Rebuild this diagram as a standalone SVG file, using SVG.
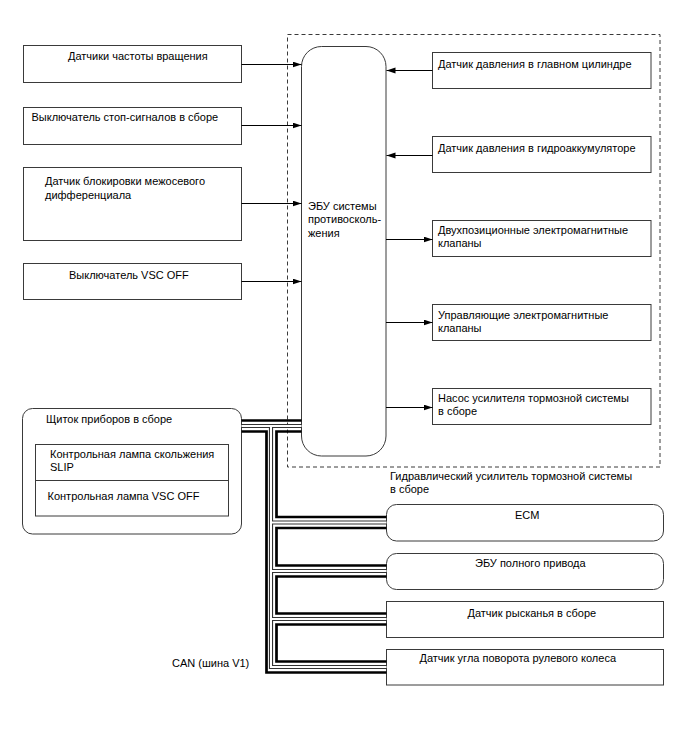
<svg xmlns="http://www.w3.org/2000/svg" width="688" height="755" viewBox="0 0 688 755">
<defs>
<marker id="ah" markerUnits="userSpaceOnUse" markerWidth="10" markerHeight="7" refX="9" refY="3" orient="auto">
<path d="M0,0 L9,3 L0,6 z" fill="#000"/>
</marker>
<style>
.b{fill:#fff;stroke:#3a3a3a;stroke-width:1}
.t{font-family:"Liberation Sans",Arial,sans-serif;font-size:11px;fill:#000}
.a{stroke:#000;stroke-width:1;fill:none;marker-end:url(#ah)}
.dash{fill:none;stroke:#3a3a3a;stroke-width:1;stroke-dasharray:4 3}
.thick{fill:none;stroke:#000;stroke-width:2.7;stroke-linejoin:miter}
.dbo{fill:none;stroke:#333;stroke-width:4.2}
.dbi{fill:none;stroke:#fff;stroke-width:2}
</style>
</defs>
<rect width="688" height="755" fill="#fff"/>
<rect class="dash" x="287.5" y="34.5" width="372.5" height="432.5"/>
<text class="t" x="390" y="480">Гидравлический усилитель тормозной системы</text>
<text class="t" x="390" y="493">в сборе</text>

<g id="n-speed"><rect class="b" x="23.5" y="45.5" width="218" height="37"/><text class="t" x="68" y="60">Датчики частоты вращения</text></g>
<g id="n-stop"><rect class="b" x="23.5" y="107.5" width="218" height="37"/><text class="t" x="31.5" y="121">Выключатель стоп-сигналов в сборе</text></g>
<g id="n-diff"><rect class="b" x="23.5" y="167.5" width="218" height="73"/><text class="t" x="45" y="185">Датчик блокировки межосевого</text><text class="t" x="45" y="198.5">дифференциала</text></g>
<g id="n-vscoff"><rect class="b" x="23.5" y="263.5" width="218" height="36"/><text class="t" x="69" y="279">Выключатель VSC OFF</text></g>

<g id="n-ecu"><rect class="b" x="301.5" y="46.5" width="84.5" height="409.5" rx="20" ry="20"/><text class="t" x="308" y="209.5">ЭБУ системы</text><text class="t" x="308" y="223">противосколь-</text><text class="t" x="308" y="236.5">жения</text></g>

<g id="n-mc"><rect class="b" x="432.5" y="52.5" width="218.5" height="36"/><text class="t" x="438" y="68">Датчик давления в главном цилиндре</text></g>
<g id="n-acc"><rect class="b" x="432.5" y="136.5" width="218.5" height="36"/><text class="t" x="438" y="152">Датчик давления в гидроаккумуляторе</text></g>
<g id="n-sw"><rect class="b" x="432.5" y="220.5" width="218.5" height="36"/><text class="t" x="438" y="233.5">Двухпозиционные электромагнитные</text><text class="t" x="438" y="246.5">клапаны</text></g>
<g id="n-ctl"><rect class="b" x="432.5" y="304.5" width="218.5" height="36"/><text class="t" x="438" y="318.5">Управляющие электромагнитные</text><text class="t" x="438" y="331.5">клапаны</text></g>
<g id="n-pump"><rect class="b" x="432.5" y="388.5" width="218.5" height="36"/><text class="t" x="438" y="402">Насос усилителя тормозной системы</text><text class="t" x="438" y="415">в сборе</text></g>

<g id="n-cluster"><rect class="b" x="22.5" y="408.5" width="219" height="125.5" rx="10" ry="10"/><text class="t" x="46" y="422.5">Щиток приборов в сборе</text>
<rect class="b" x="35.5" y="444.5" width="193" height="71.5"/><line x1="35.5" y1="480.5" x2="228.5" y2="480.5" stroke="#3a3a3a"/>
<text class="t" x="50" y="457.5">Контрольная лампа скольжения</text><text class="t" x="50" y="470.5">SLIP</text><text class="t" x="47.5" y="500">Контрольная лампа VSC OFF</text></g>

<g id="n-ecm"><rect class="b" x="386.5" y="504.5" width="277" height="36.5" rx="10" ry="10"/><text class="t" x="515" y="518.5">ECM</text></g>
<g id="n-4wd"><rect class="b" x="386.5" y="553.5" width="277" height="36" rx="10" ry="10"/><text class="t" x="475" y="567">ЭБУ полного привода</text></g>
<g id="n-yaw"><rect class="b" x="386.5" y="601.5" width="277" height="36"/><text class="t" x="467.5" y="616.5">Датчик рысканья в сборе</text></g>
<g id="n-steer"><rect class="b" x="386.5" y="649.5" width="277" height="35.5"/><text class="t" x="419.5" y="662">Датчик угла поворота рулевого колеса</text></g>

<text class="t" x="172" y="667">CAN (шина V1)</text>

<g id="connectors">
<line class="a" x1="241.5" y1="64.5" x2="301.5" y2="64.5"/>
<line class="a" x1="241.5" y1="125.5" x2="301.5" y2="125.5"/>
<line class="a" x1="241.5" y1="203.5" x2="301.5" y2="203.5"/>
<line class="a" x1="241.5" y1="281.5" x2="301.5" y2="281.5"/>
<line class="a" x1="432.5" y1="70.5" x2="386.5" y2="70.5"/>
<line class="a" x1="432.5" y1="155.5" x2="386.5" y2="155.5"/>
<line class="a" x1="386" y1="239.5" x2="432.5" y2="239.5"/>
<line class="a" x1="386" y1="322.5" x2="432.5" y2="322.5"/>
<line class="a" x1="386" y1="407.5" x2="432.5" y2="407.5"/>
<path class="dbo" d="M241.5,426 H301.5 M271,426 V667 H386.5 M271,522.5 H386.5 M271,571 H386.5 M271,619 H386.5"/>
<path class="dbi" d="M241.5,426 H301.5 M271,426 V667 H386.5 M271,522.5 H386.5 M271,571 H386.5 M271,619 H386.5"/>
<path class="thick" d="M241.5,420.5 H301.5"/>
<path class="thick" d="M241.5,431.5 H266.5 V672.5 H386.5"/>
<path class="thick" d="M301.5,431.5 H276.5 V517 H386.5"/>
<path class="thick" d="M386.5,528 H276.5 V565.5 H386.5"/>
<path class="thick" d="M386.5,576.5 H276.5 V613.5 H386.5"/>
<path class="thick" d="M386.5,624.5 H276.5 V661.5 H386.5"/>
</g>
</svg>
